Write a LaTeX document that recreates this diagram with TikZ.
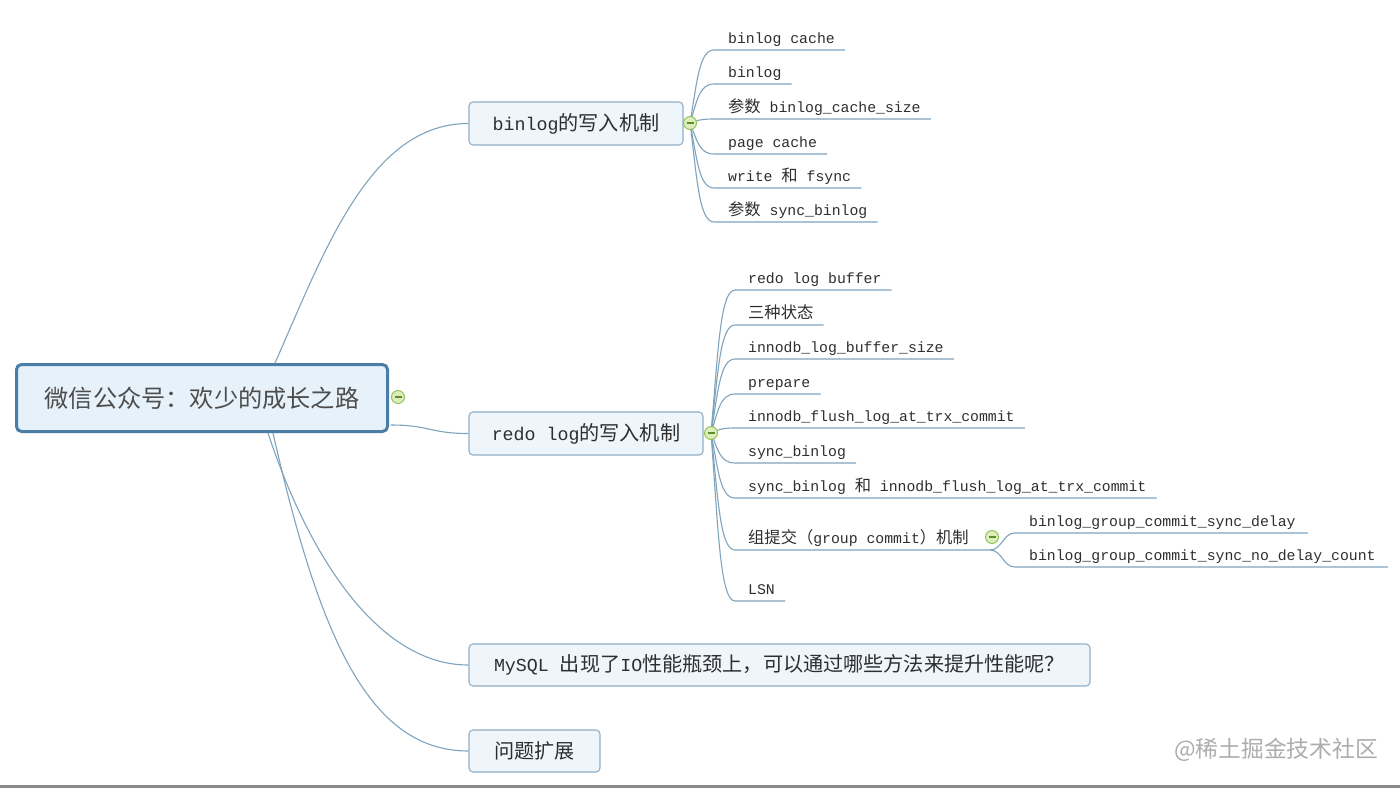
\documentclass[tikz,border=0pt]{standalone}
\usepackage{fontspec}
\setmainfont{Liberation Mono}
\newfontfamily\cjfont[Scale=1.1]{Noto Sans CJK SC}
\newfontfamily\wmfont{Noto Sans CJK SC}
\newcommand\cj[1]{{\cjfont #1}}
\usetikzlibrary{calc}
\definecolor{linkc}{HTML}{7FA4BD}
\definecolor{txt}{HTML}{2E2E2E}
\definecolor{boxd}{HTML}{93AFC6}
\definecolor{boxf}{HTML}{EEF5FB}
\definecolor{rootd}{HTML}{4B7EA7}
\definecolor{rootf}{HTML}{E6F1FA}
\definecolor{togd}{HTML}{8DBE52}
\definecolor{togf}{HTML}{DDEEBB}
\definecolor{togm}{HTML}{5E8C2E}
\definecolor{wmc}{HTML}{ADADAD}
\definecolor{barc}{HTML}{8A8A8A}
\tikzset{
  link/.style={draw=linkc, line width=1.1pt},
  kid/.style={anchor=base west, inner sep=0pt, text=txt, font=\fontsize{14.8}{17}\selectfont},
  lvbox/.style={draw=boxd, fill=boxf, line width=1.1pt, rounded corners=4pt, text=txt,
    inner sep=0pt, font=\fontsize{18.3}{22}\selectfont},
  rootbox/.style={draw=rootd, fill=rootf, line width=3pt, rounded corners=5pt, text=txt!85,
    inner sep=0pt, minimum width=371pt, minimum height=67pt, font=\fontsize{22}{26}\selectfont},
  tog/.style={circle, draw=togd, fill=togf, line width=0.9pt, minimum size=13pt, inner sep=0pt, text=togm},
  wm/.style={text=wmc, inner sep=0pt, font=\wmfont\fontsize{22.8}{26}\selectfont}
}
\newcommand\kidA[3]{%
  \node[kid] (#1) at (728,#2-7) {#3};
  \coordinate (#1s) at (714,#2);
  \coordinate (#1e) at ($(#1.base east)+(10,7)$);
  \draw[link] (cb) .. controls (697,{123+(#2-123)*0.55}) and (699,#2) .. (#1s) -- (#1e);}
\newcommand\kidB[3]{%
  \node[kid] (#1) at (748,#2-7) {#3};
  \coordinate (#1s) at (735,#2);
  \coordinate (#1e) at ($(#1.base east)+(10,7)$);
  \draw[link] (cr) .. controls (718,{433+(#2-433)*0.55}) and (720,#2) .. (#1s) -- (#1e);}
\begin{document}
\begin{tikzpicture}[x=1pt, y=-1pt]
\useasboundingbox (0,0) rectangle (1400,788);
\fill[white] (0,0) rectangle (1400,788);
\fill[barc] (0,785) rectangle (1400,788);

% root and level-1 boxes
\node[rootbox] (root) at (202,398) {\cj{微信公众号：欢少的成长之路}};
\node[lvbox, minimum width=214pt, minimum height=43pt] (b1) at (576,123.5) {binlog\cj{的写入机制}};
\node[lvbox, minimum width=234pt, minimum height=43pt] (b2) at (586,433.5) {redo log\cj{的写入机制}};
\node[lvbox, minimum width=621pt, minimum height=42pt] (b3) at (779.5,665) {MySQL \cj{出现了}IO\cj{性能瓶颈上，可以通过哪些方法来提升性能呢？}};
\node[lvbox, minimum width=131pt, minimum height=42pt] (b4) at (534.5,751) {\cj{问题扩展}};

% connectors from root
\coordinate (r1) at ($(root.north)+(73,0)$);
\coordinate (r2) at ($(root.east)+(1.5,27)$);
\coordinate (r3) at ($(root.south)+(66,0)$);
\coordinate (r4) at ($(root.south)+(71,0)$);
\draw[link] (r1) .. controls (325,250) and (370,123.5) .. (b1.west);
\draw[link] (r2) .. controls (430,425) and (430,433.5) .. (b2.west);
\draw[link] (r3) .. controls (310,560) and (380,665) .. (b3.west);
\draw[link] (r4) .. controls (320,640) and (370,751) .. (b4.west);

% binlog children
\coordinate (cb) at (690,123);
\kidA{a1}{50}{binlog cache}
\kidA{a2}{84}{binlog}
\kidA{a3}{119}{\cj{参数} binlog\_cache\_size}
\kidA{a4}{154}{page cache}
\kidA{a5}{188}{write \cj{和} fsync}
\kidA{a6}{222}{\cj{参数} sync\_binlog}

% redo children
\coordinate (cr) at (711,433);
\kidB{k1}{290}{redo log buffer}
\kidB{k2}{325}{\cj{三种状态}}
\kidB{k3}{359}{innodb\_log\_buffer\_size}
\kidB{k4}{394}{prepare}
\kidB{k5}{428}{innodb\_flush\_log\_at\_trx\_commit}
\kidB{k6}{463}{sync\_binlog}
\kidB{k7}{498}{sync\_binlog \cj{和} innodb\_flush\_log\_at\_trx\_commit}
\kidB{k9}{601}{LSN}

% group commit
\node[kid] (k8) at (748,543) {\cj{组提交（}group commit\cj{）机制}};
\coordinate (k8s) at (735,550);
\coordinate (gj) at (990,550);
\draw[link] (cr) .. controls (718,{433+(550-433)*0.55}) and (720,550) .. (k8s) -- (gj);
\node[kid] (g1) at (1029,526) {binlog\_group\_commit\_sync\_delay};
\node[kid] (g2) at (1029,560) {binlog\_group\_commit\_sync\_no\_delay\_count};
\coordinate (g1s) at (1015,533);
\coordinate (g2s) at (1015,567);
\coordinate (g1e) at ($(g1.base east)+(12,7)$);
\coordinate (g2e) at ($(g2.base east)+(12,7)$);
\draw[link] (gj) .. controls (1002,550) and (1003,533) .. (g1s) -- (g1e);
\draw[link] (gj) .. controls (1002,550) and (1003,567) .. (g2s) -- (g2e);

% toggles
\node[tog] (c0) at (398,397) {\rule{7pt}{1.3pt}};
\node[tog] (c1) at (cb) {\rule{7pt}{1.3pt}};
\node[tog] (c2) at (cr) {\rule{7pt}{1.3pt}};
\node[tog] (c3) at (992,537) {\rule{7pt}{1.3pt}};

% watermark
\node[wm, anchor=west] (wmk) at (1174,750) {@稀土掘金技术社区};
\end{tikzpicture}
\end{document}
